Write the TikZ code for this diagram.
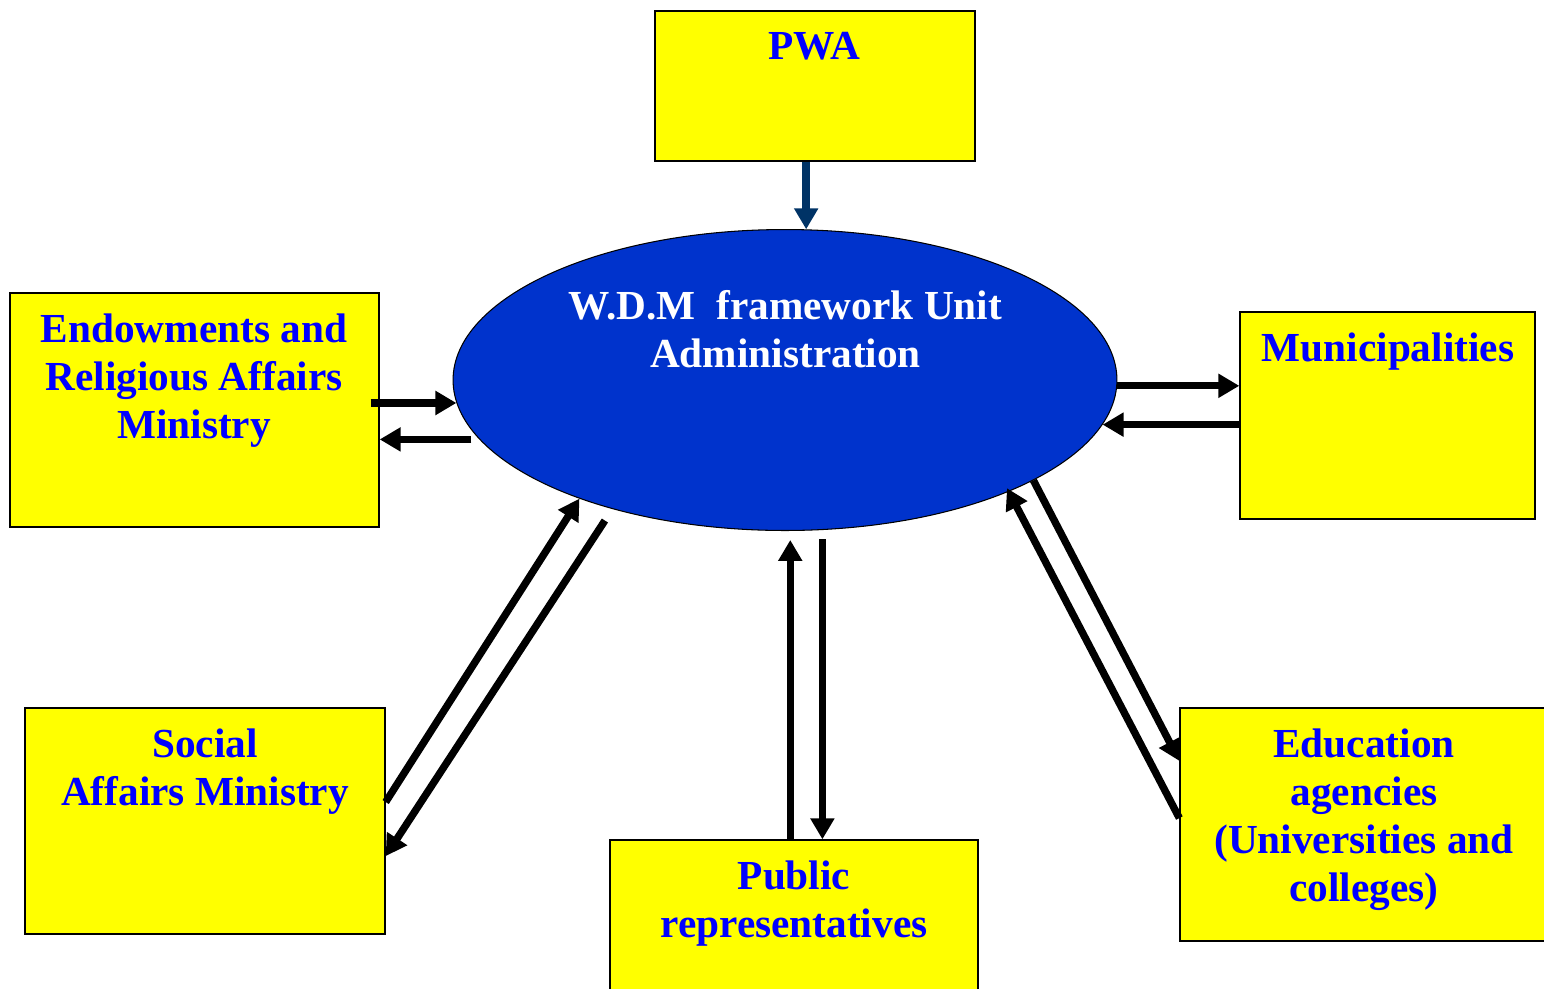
\documentclass[tikz,border=0pt]{standalone}
\usepackage{fontspec}
\setmainfont{Liberation Serif}
\usepackage{xcolor}
\usetikzlibrary{arrows.meta,shapes.geometric}
\definecolor{wdmblue}{HTML}{0033CC}
\definecolor{boxyellow}{HTML}{FFFF00}
\definecolor{txtblue}{HTML}{0000FF}
\definecolor{pwanavy}{HTML}{003366}

\begin{document}
\begin{tikzpicture}[x=0.02cm, y=-0.02cm,
  every node/.style={font=\fontsize{23.5}{27.3}\selectfont\bfseries},
  box/.style={draw, line width=0.8pt, fill=boxyellow, inner sep=0pt},
  lbl/.style={text=txtblue, align=center, anchor=base, inner sep=0pt},
  arr/.style={line width=4.2pt, -{Triangle[length=0.42cm, width=0.46cm]}}]
\useasboundingbox (0,0) rectangle (1544,988);
\clip (0,0) rectangle (1544,988);
\node[box, minimum width=6.4cm, minimum height=3cm] (pwa) at (815,86) {};
\node[box, minimum width=7.38cm, minimum height=4.68cm] (endow) at (194.5,410) {};
\node[box, minimum width=5.9cm, minimum height=4.14cm] (muni) at (1387.5,415.5) {};
\node[box, minimum width=7.2cm, minimum height=4.52cm] (social) at (205,821) {};
\node[box, minimum width=7.36cm, minimum height=3.2cm] (public) at (794,920) {};
\node[box, minimum width=7.36cm, minimum height=4.66cm] (edu) at (1364,824.5) {};
\node[draw, ellipse, line width=0.6pt, fill=wdmblue, inner sep=0pt, minimum width=13.28cm, minimum height=6.02cm] (wdm) at (785,380) {};
\node[lbl] (pwalbl) at (814,59) {PWA};
\node[lbl, text=white] (wdmlbl) at (785.5,367) {W.D.M\ \ framework Unit\\Administration};
\node[lbl] (endowlbl) at (194,438) {Endowments and\\Religious Affairs\\Ministry};
\node[lbl] (munilbl) at (1388,361) {Municipalities};
\node[lbl] (sociallbl) at (205,805) {Social\\Affairs Ministry};
\node[lbl] (publiclbl) at (794,937) {Public\\representatives};
\node[lbl] (edulbl) at (1364,901) {Education\\agencies\\(Universities and\\colleges)};
\draw[arr, pwanavy] (pwa.south -| wdm.82.4) -- (wdm.82.4);
\draw[arr] ([xshift=-0.18cm]endow.east |- wdm.184.5) -- (wdm.184.5);\draw[arr] ([xshift=-0.16cm]wdm.191.5) -- (endow.east |- wdm.191.5);
\draw[arr] (wdm.-1.2) -- (muni.west |- wdm.-1.2);\draw[arr] (muni.west |- wdm.-8) -- (wdm.-8);
\draw[arr] (social.6) -- (wdm.210.5);\draw[arr] ([xshift=-0.26cm, yshift=-0.2cm]wdm.218.2) -- (social.-11.3);
\draw[arr, shorten >=0.18cm] (public.north -| wdm.-88.1) -- (wdm.-88.1);\draw[arr, shorten <=0.18cm] (wdm.-76.8) -- (public.north -| wdm.-76.8);
\draw[arr] (edu.178.6) -- ([xshift=-0.2cm]wdm.-25.3);\draw[arr] (wdm.-22.7) -- (edu.161.2);
\end{tikzpicture}
\end{document}
